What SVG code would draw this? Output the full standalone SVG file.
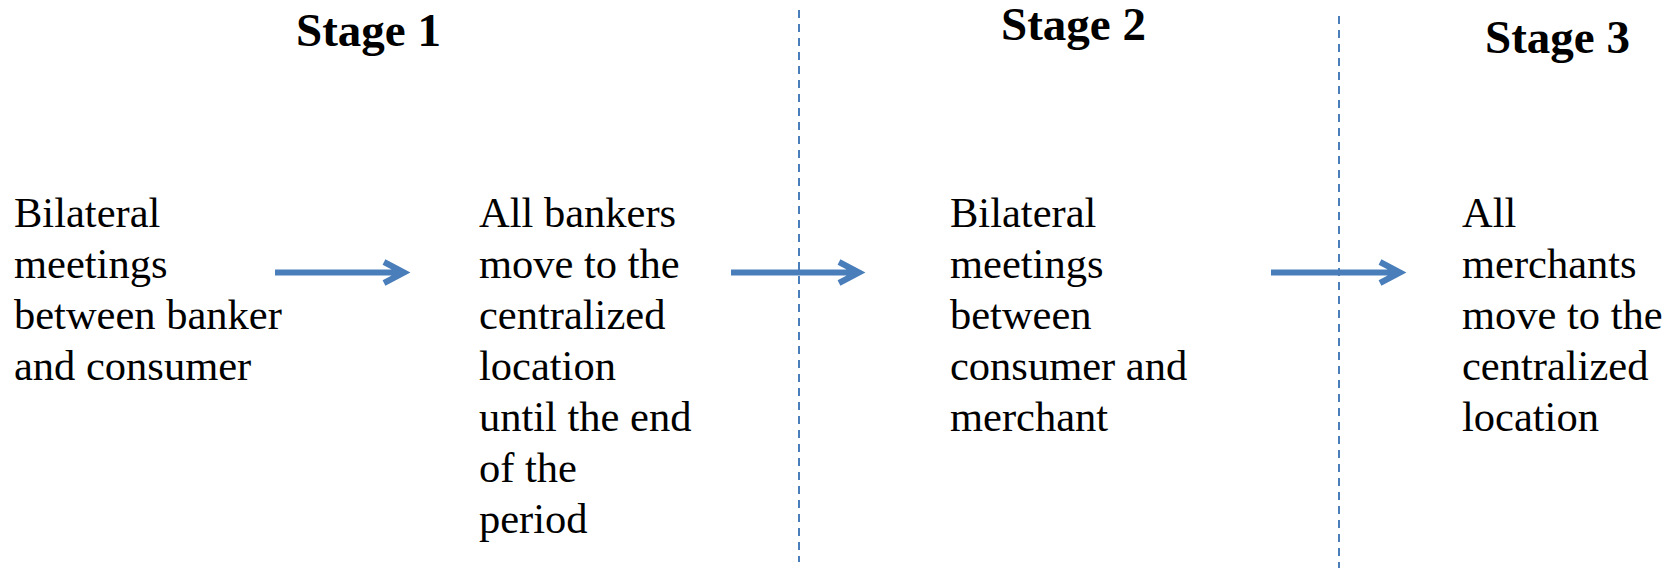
<svg xmlns="http://www.w3.org/2000/svg" width="1679" height="568" viewBox="0 0 1679 568">
<style>
.t{font-family:'Liberation Serif','Times New Roman',Times,serif;font-size:42.5px;font-weight:normal;fill:#000}
.h{font-family:'Liberation Serif','Times New Roman',Times,serif;font-size:47px;font-weight:bold;fill:#000}
.a{stroke:#4a7ebb;stroke-width:6;fill:none;stroke-linejoin:miter;stroke-linecap:butt}
.d{stroke:#4a7ebb;stroke-width:2;stroke-dasharray:8 6;fill:none}
</style>
<rect width="1679" height="568" fill="#fff"/>
<g id="titles">
<text class="h" x="296" y="46">Stage 1</text>
<text class="h" x="1001" y="40">Stage 2</text>
<text class="h" x="1485" y="53">Stage 3</text>
</g>
<g id="dividers">
<line class="d" x1="799" y1="10" x2="799" y2="562"/>
<line class="d" x1="1339" y1="16" x2="1339" y2="568"/>
</g>
<g id="node1">
<text class="t" x="14" y="227">Bilateral</text>
<text class="t" x="14" y="278">meetings</text>
<text class="t" x="14" y="329">between banker</text>
<text class="t" x="14" y="380">and consumer</text>
</g>
<g id="node2">
<text class="t" x="479" y="227">All bankers</text>
<text class="t" x="479" y="278">move to the</text>
<text class="t" x="479" y="329">centralized</text>
<text class="t" x="479" y="380">location</text>
<text class="t" x="479" y="431">until the end</text>
<text class="t" x="479" y="482">of the</text>
<text class="t" x="479" y="533">period</text>
</g>
<g id="node3">
<text class="t" x="950" y="227">Bilateral</text>
<text class="t" x="950" y="278">meetings</text>
<text class="t" x="950" y="329">between</text>
<text class="t" x="950" y="380">consumer and</text>
<text class="t" x="950" y="431">merchant</text>
</g>
<g id="node4">
<text class="t" x="1462" y="227">All</text>
<text class="t" x="1462" y="278">merchants</text>
<text class="t" x="1462" y="329">move to the</text>
<text class="t" x="1462" y="380">centralized</text>
<text class="t" x="1462" y="431">location</text>
</g>
<g id="connectors">
<path class="a" d="M275 272.5 H402 M384 262 L404 272.5 L384 283"/>
<path class="a" d="M731 272.5 H857 M839 262 L859 272.5 L839 283"/>
<path class="a" d="M1271 272.5 H1398 M1380 262 L1400 272.5 L1380 283"/>
</g>
</svg>
